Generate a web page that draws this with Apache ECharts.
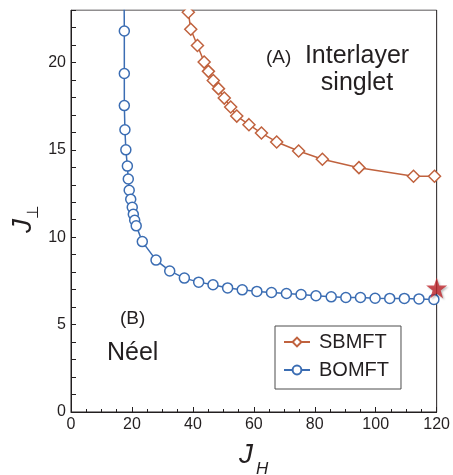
<!DOCTYPE html>
<html>
<head>
<meta charset="utf-8">
<script src="https://cdn.jsdelivr.net/npm/echarts@6/dist/echarts.min.js"></script>
<style>
  html, body { margin: 0; padding: 0; background: #fff; }
  #chart { width: 453px; height: 475px; }
</style>
</head>
<body>
<div id="chart"></div>
<script>
// Phase boundary J_perp(J_H) from two mean-field approaches.
const bomftJH    = [17.4, 17.5, 17.5, 17.5, 17.7, 18.0, 18.5, 18.8, 19.1, 19.6, 20.1, 20.45, 20.9, 21.4, 23.4, 27.9, 32.4, 37.2, 41.9, 46.6, 51.4, 56.2, 61.0, 65.8, 70.7, 75.5, 80.4, 85.4, 90.2, 95.0, 99.8, 104.6, 109.4, 114.2, 119.1];
const bomftJperp = [24.5, 21.8, 19.37, 17.53, 16.15, 15.0, 14.07, 13.33, 12.69, 12.17, 11.71, 11.31, 10.97, 10.65, 9.75, 8.69, 8.07, 7.66, 7.43, 7.28, 7.10, 6.99, 6.90, 6.84, 6.78, 6.72, 6.65, 6.59, 6.55, 6.55, 6.51, 6.50, 6.50, 6.47, 6.44];

const sbmftJH    = [37.6, 38.5, 39.3, 41.5, 43.7, 45.1, 46.7, 48.4, 50.3, 52.4, 54.4, 58.4, 62.5, 67.5, 74.7, 82.5, 94.5, 112.4, 119.3];
const sbmftJperp = [24.0, 22.87, 21.9, 20.97, 20.02, 19.49, 18.97, 18.5, 17.96, 17.45, 16.93, 16.44, 15.96, 15.45, 14.93, 14.46, 13.98, 13.49, 13.49];

// Highlighted point on the BOMFT boundary.
const starJH = [120];
const starJperp = [7.1];

const seriesNames = ['SBMFT', 'BOMFT'];
const xRange = [0, 120];
const xStep = 20;
const yRange = [0, 23];
const yStep = 5;

const ink = '#231f20';
const blue = '#3b6db3';
const rust = '#c0623e';
const font = "'Liberation Sans', 'DejaVu Sans', Arial, sans-serif";

const zip = (xs, ys) => xs.map((x, i) => [x, ys[i]]);

const starPath = 'path://M50,0 L61.8,35.1 L98.9,35.1 L68.9,56.9 L80.3,92.1 L50,70.5 L19.7,92.1 L31.1,56.9 L1.1,35.1 L38.2,35.1 Z';

const chart = echarts.init(document.getElementById('chart'), null, { renderer: 'canvas' });

chart.setOption({
  animation: false,
  backgroundColor: '#fff',
  grid: {
    left: 71, right: 16, top: 10, bottom: 63,
    show: true, borderColor: ink, borderWidth: 1, backgroundColor: 'transparent'
  },
  legend: {
    data: seriesNames,
    orient: 'vertical',
    left: 275, top: 326,
    padding: [6, 12, 9, 8],
    itemWidth: 26, itemHeight: 11, itemGap: 8,
    borderColor: '#4d4d4d', borderWidth: 1,
    textStyle: { fontFamily: font, fontSize: 20, color: ink, lineHeight: 20, padding: [0, 0, 0, 4] }
  },
  xAxis: {
    type: 'value', min: xRange[0], max: xRange[1], interval: xStep,
    axisLine: { lineStyle: { color: ink, width: 1 } },
    axisTick: { inside: true, length: 5, lineStyle: { color: ink } },
    minorTick: { show: true, splitNumber: 4, length: 3, lineStyle: { color: ink } },
    splitLine: { show: false },
    axisLabel: { color: ink, fontFamily: font, fontSize: 16, margin: 5 }
  },
  yAxis: [
    {
      type: 'value', min: yRange[0], max: yRange[1], interval: yStep,
      axisLine: { show: true, lineStyle: { color: ink, width: 1 } },
      axisTick: { show: false },
      splitLine: { show: false },
      axisLabel: { color: ink, fontFamily: font, fontSize: 16, margin: 5, showMaxLabel: false }
    },
    {
      // unit ticks along the left edge
      type: 'value', min: yRange[0], max: yRange[1], interval: 1, position: 'left',
      axisLine: { show: false },
      axisTick: { show: true, inside: true, length: 5, lineStyle: { color: ink } },
      axisLabel: { show: false },
      splitLine: { show: false }
    }
  ],
  series: [
    {
      name: 'SBMFT', type: 'line', data: zip(sbmftJH, sbmftJperp),
      clip: true, symbol: 'diamond', symbolSize: 12, showAllSymbol: true,
      lineStyle: { color: rust, width: 1.5 },
      itemStyle: { color: '#fff', borderColor: rust, borderWidth: 1.5 },
      z: 3
    },
    {
      name: 'BOMFT', type: 'line', data: zip(bomftJH, bomftJperp),
      clip: true, symbol: 'circle', symbolSize: 10, showAllSymbol: true,
      lineStyle: { color: blue, width: 1.5 },
      itemStyle: { color: '#fff', borderColor: blue, borderWidth: 1.5 },
      z: 3
    },
    {
      name: 'star', type: 'scatter', data: zip(starJH, starJperp),
      clip: false, symbol: starPath, symbolSize: 21,
      itemStyle: {
        color: '#c1272d',
        shadowBlur: 2, shadowColor: 'rgba(0,0,0,0.3)', shadowOffsetX: 1.5, shadowOffsetY: 1.5
      },
      z: 10
    }
  ],
  graphic: [
    // trims markers that poke above the frame
    { type: 'rect', z: 100, shape: { x: 71, y: 0, width: 367, height: 9.5 }, style: { fill: '#fff' } },
    { type: 'text', x: 266, y: 58, style: { text: '(A)', font: '19px ' + font, fill: ink, verticalAlign: 'middle' } },
    { type: 'text', x: 357, y: 56, style: { text: 'Interlayer', font: '25px ' + font, fill: ink, align: 'center', verticalAlign: 'middle' } },
    { type: 'text', x: 357, y: 83, style: { text: 'singlet', font: '25px ' + font, fill: ink, align: 'center', verticalAlign: 'middle' } },
    { type: 'text', x: 120, y: 319, style: { text: '(B)', font: '19px ' + font, fill: ink, verticalAlign: 'middle' } },
    { type: 'text', x: 107, y: 353, style: { text: 'Néel', font: '25px ' + font, fill: ink, verticalAlign: 'middle' } },
    // axis titles
    { type: 'text', x: 246, y: 455, style: { text: 'J', font: 'italic 28px ' + font, fill: ink, align: 'center', verticalAlign: 'middle' } },
    { type: 'text', x: 256, y: 469, style: { text: 'H', font: 'italic 17px ' + font, fill: ink, verticalAlign: 'middle' } },
    { type: 'text', x: 23, y: 226, rotation: Math.PI / 2, style: { text: 'J', font: 'italic 28px ' + font, fill: ink, align: 'center', verticalAlign: 'middle' } },
    { type: 'text', x: 34, y: 212, rotation: Math.PI / 2, style: { text: '⊥', font: '16px ' + font, fill: ink, align: 'center', verticalAlign: 'middle' } }
  ]
});
</script>
</body>
</html>
